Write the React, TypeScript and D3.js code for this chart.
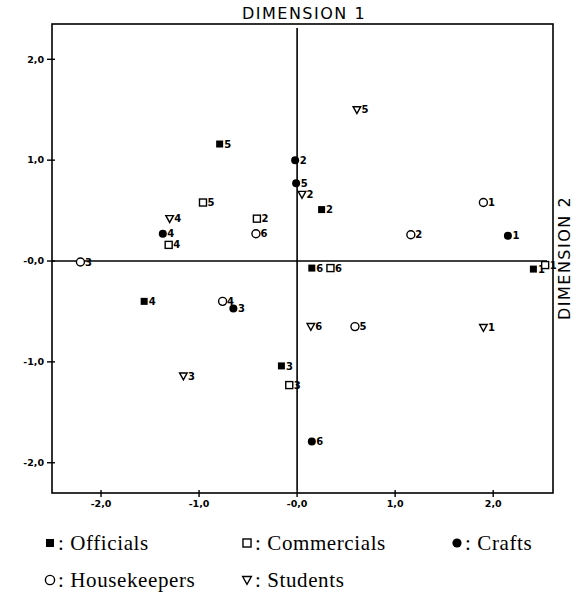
import React from "react";
import * as d3 from "d3";

// Correspondence-analysis coordinates (dimension 1, dimension 2) per group, points numbered 1..6
const officialsX = [2.41, 0.25, -0.16, -1.56, -0.79, 0.15];
const officialsY = [-0.08, 0.51, -1.04, -0.4, 1.16, -0.07];

const pointLabels = ["1", "2", "3", "4", "5", "6"];

const commercialsX = [2.53, -0.41, -0.08, -1.31, -0.96, 0.34];
const commercialsY = [-0.04, 0.42, -1.23, 0.16, 0.58, -0.07];

const craftsX = [2.15, -0.02, -0.65, -1.37, -0.01, 0.15];
const craftsY = [0.25, 1.0, -0.47, 0.27, 0.77, -1.79];

const housekeepersX = [1.9, 1.16, -2.21, -0.76, 0.59, -0.42];
const housekeepersY = [0.58, 0.26, -0.01, -0.4, -0.65, 0.27];

const studentsX = [1.9, 0.05, -1.16, -1.3, 0.61, 0.14];
const studentsY = [-0.66, 0.66, -1.14, 0.42, 1.5, -0.65];

const tickValues = [-2, -1, 0, 1, 2];
const tickText = ["-2,0", "-1,0", "-0,0", "1,0", "2,0"];

const groupNames = ["Officials", "Commercials", "Crafts", "Housekeepers", "Students"];
const groupSymbols = ["fsquare", "osquare", "fcircle", "ocircle", "otriangle"];

const W = 577;
const H = 594;
const frame = { left: 52, right: 553, top: 24, bottom: 493 };

const x = d3.scaleLinear().domain([-2.5, 2.61]).range([frame.left, frame.right]);
const y = d3.scaleLinear().domain([-2.3, 2.35]).range([frame.bottom, frame.top]);

function Marker({ kind, cx, cy, s = 1 }: { kind: string; cx: number; cy: number; s?: number }) {
  switch (kind) {
    case "fsquare":
      return <rect x={cx - 3.5 * s} y={cy - 3.5 * s} width={7 * s} height={7 * s} fill="#000" />;
    case "osquare":
      return (
        <rect x={cx - 3.5 * s} y={cy - 3.5 * s} width={7 * s} height={7 * s} fill="#fff" stroke="#000" strokeWidth={1.4} />
      );
    case "fcircle":
      return <circle cx={cx} cy={cy} r={4 * s} fill="#000" />;
    case "ocircle":
      return <circle cx={cx} cy={cy} r={4 * s} fill="#fff" stroke="#000" strokeWidth={1.4} />;
    default: {
      const h = 3.8 * s;
      const p = `M${cx - h},${cy - h * 0.8} L${cx + h},${cy - h * 0.8} L${cx},${cy + h} Z`;
      return <path d={p} fill="#fff" stroke="#000" strokeWidth={1.4} strokeLinejoin="miter" />;
    }
  }
}

const series = [
  { kind: "fsquare", xs: officialsX, ys: officialsY },
  { kind: "osquare", xs: commercialsX, ys: commercialsY },
  { kind: "fcircle", xs: craftsX, ys: craftsY },
  { kind: "ocircle", xs: housekeepersX, ys: housekeepersY },
  { kind: "otriangle", xs: studentsX, ys: studentsY },
];

const sans = "'DejaVu Sans', Arial, sans-serif";
const serif = "'Liberation Serif', 'Times New Roman', serif";

export default function App() {
  return (
    <svg width={W} height={H} style={{ position: "absolute", left: 0, top: 0, background: "#fff" }}>
      <rect width={W} height={H} fill="#fff" />
      {/* frame */}
      <rect
        x={frame.left}
        y={frame.top}
        width={frame.right - frame.left}
        height={frame.bottom - frame.top}
        fill="none"
        stroke="#000"
        strokeWidth={1.6}
      />
      {/* zero axes */}
      <line x1={frame.left} x2={frame.right - 6} y1={y(0)} y2={y(0)} stroke="#000" strokeWidth={1.6} />
      <line x1={x(0)} x2={x(0)} y1={frame.top + 4} y2={frame.bottom - 3} stroke="#000" strokeWidth={1.6} />

      {/* y ticks */}
      {tickValues.map((v, i) => (
        <g key={"yt" + i}>
          <line x1={frame.left - 5} x2={frame.left + 3} y1={y(v)} y2={y(v)} stroke="#000" strokeWidth={1.4} />
          <text
            x={frame.left - 8}
            y={y(v)}
            dy="0.35em"
            textAnchor="end"
            fontFamily={sans}
            fontWeight="bold"
            fontSize={9.5}
          >
            {tickText[i]}
          </text>
        </g>
      ))}
      {/* x ticks */}
      {tickValues.map((v, i) => (
        <g key={"xt" + i}>
          <line x1={x(v)} x2={x(v)} y1={frame.bottom - 3} y2={frame.bottom + 4} stroke="#000" strokeWidth={1.4} />
          <text
            x={x(v)}
            y={frame.bottom + 14}
            textAnchor="middle"
            fontFamily={sans}
            fontWeight="bold"
            fontSize={9.5}
          >
            {tickText[i]}
          </text>
        </g>
      ))}

      {/* axis titles */}
      <text x={304} y={19} textAnchor="middle" fontFamily={sans} fontSize={16} letterSpacing={1.5}>
        DIMENSION 1
      </text>
      <text
        transform={`translate(570, 258) rotate(-90)`}
        textAnchor="middle"
        fontFamily={sans}
        fontSize={16}
        letterSpacing={1.5}
      >
        DIMENSION 2
      </text>

      {/* points */}
      {series.map((s, si) =>
        s.xs.map((vx, i) => {
          const cx = x(vx);
          const cy = y(s.ys[i]);
          return (
            <g key={`p${si}-${i}`}>
              <Marker kind={s.kind} cx={cx} cy={cy} />
              <text
                x={cx + 4.5}
                y={cy}
                dy="0.36em"
                fontFamily={sans}
                fontWeight="bold"
                fontSize={10}
              >
                {pointLabels[i]}
              </text>
            </g>
          );
        })
      )}

      {/* legend */}
      {groupNames.map((name, i) => {
        const col = i < 3 ? i : i - 3;
        const row = i < 3 ? 0 : 1;
        const lx = [50, 247, 457][col];
        const ly = [543, 580][row];
        return (
          <g key={"lg" + i}>
            <Marker kind={groupSymbols[i]} cx={lx} cy={ly} s={1.15} />
            <text x={lx + 8} y={ly} dy="0.35em" fontFamily={serif} fontSize={21} letterSpacing={0.6}>
              {": " + name}
            </text>
          </g>
        );
      })}
    </svg>
  );
}
